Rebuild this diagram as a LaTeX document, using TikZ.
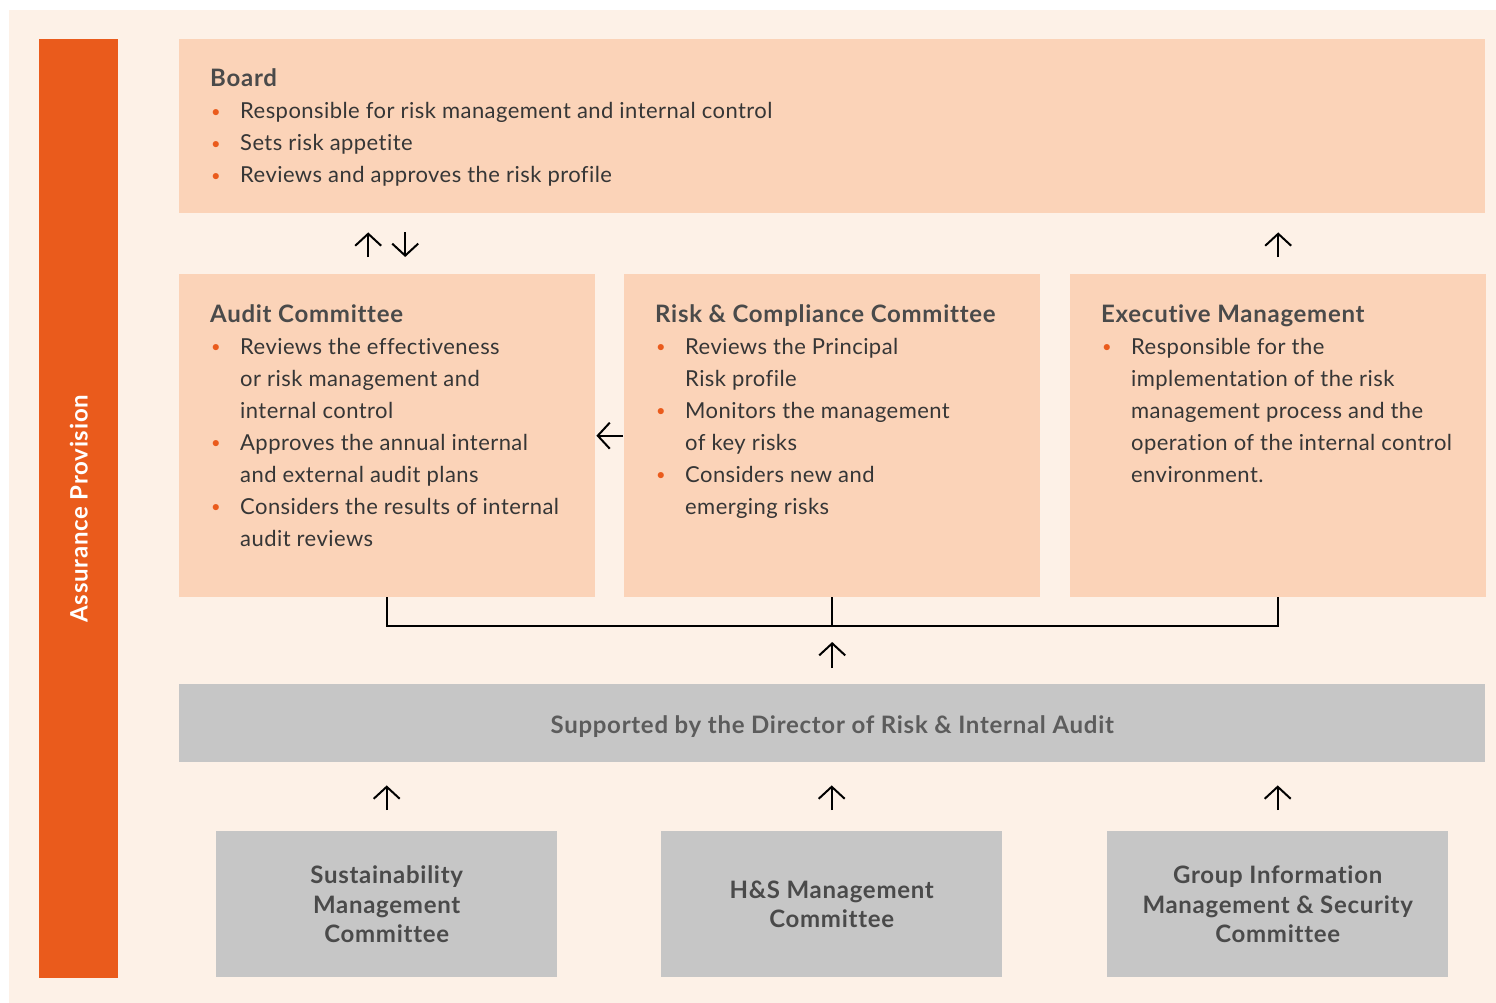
\documentclass[tikz,border=0pt]{standalone}
\usepackage{fontspec}
\setmainfont{Lato}[LetterSpace=2, Ligatures=NoCommon, BoldFeatures={LetterSpace=3}]
\usepackage{xcolor}
\usetikzlibrary{arrows.meta,positioning,calc}
\definecolor{cream}{HTML}{FDF1E7}
\definecolor{accent}{HTML}{EA5B1C}
\definecolor{peach}{HTML}{FBD3B8}
\definecolor{panel}{HTML}{C6C6C6}
\definecolor{ink}{HTML}{363636}
\definecolor{headink}{HTML}{4A4A4A}
\newcommand{\itm}{\makebox[30pt][l]{\hspace*{1pt}\textcolor{accent}{\raisebox{1.5pt}{\scalebox{0.75}{\textbullet}}}}}
\newcommand{\cnt}{\hspace*{30pt}}
\newcommand{\hd}[1]{{\fontsize{24}{32}\selectfont\bfseries\textcolor{headink}{\vphantom{Bd}#1}}}

\begin{document}
\begin{tikzpicture}[
  x=1pt, y=-1pt,
  >={Straight Barb[length=12pt,width=26pt]},
  box/.style={fill=peach, inner sep=0pt, anchor=north west},
  greybox/.style={fill=panel, inner sep=0pt, anchor=north west},
  body/.style={anchor=north west, inner sep=0pt, align=left, text=ink,
               font=\fontsize{22}{32}\selectfont},
  head/.style={align=center, text=headink, font=\fontsize{24}{29.5}\selectfont\bfseries},
  arr/.style={->, line width=2pt},
  link/.style={line width=2pt}
]
  \useasboundingbox (0,0) rectangle (1496,1003);
  \fill[white] (0,0) rectangle (1496,1003);
  \fill[cream] (9,10) rectangle (1496,1003);
  % side bar
  \node[fill=accent, inner sep=0pt, anchor=north west, minimum width=79pt, minimum height=939pt] (bar) at (39,39) {};
  \node[rotate=90, text=white, font=\fontsize{24}{24}\selectfont\bfseries] (barlbl) at (bar.center) {Assurance Provision};
  % board
  \node[box, minimum width=1306pt, minimum height=174pt] (board) at (179,39) {};
  \node[body] (boardtxt) at ([shift={(31,29.5)}]board.north west)
    {\hd{Board}\\ \itm Responsible for risk management and internal control\\
     \itm Sets risk appetite\\ \itm Reviews and approves the risk profile};
  % committees
  \def\ya{274}
  \node[box, minimum width=416pt, minimum height=323pt] (audit) at (179,\ya) {};
  \node[box, minimum width=416pt, minimum height=323pt] (risk) at (624,\ya) {};
  \node[box, minimum width=416pt, minimum height=323pt] (exec) at (1070,\ya) {};
  \node[body] (audittxt) at ([shift={(31,30)}]audit.north west)
    {\hd{Audit Committee}\\
     \itm Reviews the effectiveness\\ \cnt or risk management and\\ \cnt internal control\\
     \itm Approves the annual internal\\ \cnt and external audit plans\\
     \itm Considers the results of internal\\ \cnt audit reviews};
  \node[body] (risktxt) at ([shift={(31,30)}]risk.north west)
    {\hd{Risk \& Compliance Committee}\\
     \itm Reviews the Principal\\ \cnt Risk profile\\
     \itm Monitors the management\\ \cnt of key risks\\
     \itm Considers new and\\ \cnt emerging risks};
  \node[body] (exectxt) at ([shift={(31,30)}]exec.north west)
    {\hd{Executive Management}\\
     \itm Responsible for the\\ \cnt implementation of the risk\\
     \cnt management process and the\\ \cnt operation of the internal control\\
     \cnt environment.};
  % support
  \node[greybox, minimum width=1306pt, minimum height=78pt, head, text=headink!90,
        text height=21pt, text depth=0pt] (support) at (179,684)
    {Supported by the Director of Risk \& Internal Audit};
  % sub-committees
  \def\yb{831}
  \node[greybox, minimum width=341pt, minimum height=146pt, head] (sus) at (216,\yb) {Sustainability\\Management\\Committee};
  \node[greybox, minimum width=341pt, minimum height=146pt, head] (hs) at (661,\yb) {H\&S Management\\Committee};
  \node[greybox, minimum width=341pt, minimum height=146pt, head] (gim) at (1107,\yb) {Group Information\\Management \& Security\\Committee};
  % arrows board <-> committees
  \draw[arr, shorten <=17pt, shorten >=19pt] ([xshift=-19pt]audit.north) -- ([xshift=-19pt]audit.north |- board.south);
  \draw[arr, shorten <=19pt, shorten >=17pt] ([xshift=18pt]audit.north |- board.south) -- ([xshift=18pt]audit.north);
  \draw[arr, shorten <=17pt, shorten >=19pt] (exec.north) -- (exec.north |- board.south);
  \draw[arr, shorten <=1pt, shorten >=1pt] (risk.west) -- (audit.east);
  % joined connector
  \coordinate (join) at (risk.south |- 0,626);
  \draw[link] (audit.south) |- (join) -| (exec.south);
  \draw[link] (risk.south) -- (join);
  \draw[arr, shorten <=16pt, shorten >=16pt] (support.north) -- (join);
  % sub-committees -> support
  \foreach \n in {sus,hs,gim}
    \draw[arr, shorten <=21pt, shorten >=23pt] (\n.north) -- (\n.north |- support.south);
\end{tikzpicture}
\end{document}
